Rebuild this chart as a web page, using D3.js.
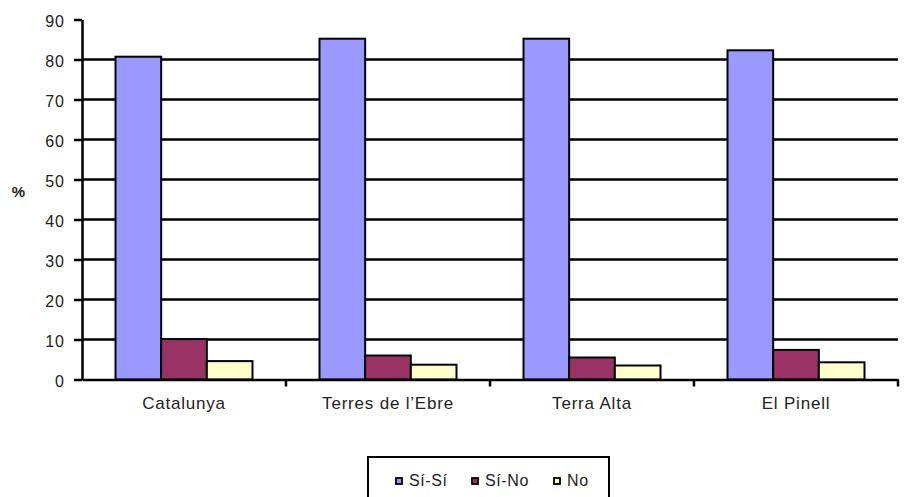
<!DOCTYPE html>
<html>
<head>
<meta charset="utf-8">
<script src="https://cdnjs.cloudflare.com/ajax/libs/d3/7.8.5/d3.min.js"></script>
<style>
  body { margin: 0; background: #fff; }
  svg { display: block; font-family: "Liberation Sans", Arial, sans-serif; }
</style>
</head>
<body>
<script>

// categories and series
var categories = ['Catalunya', 'Terres de l\u2019Ebre', 'Terra Alta', 'El Pinell'];
var seriesNames = ['S\u00ed-S\u00ed', 'S\u00ed-No', 'No'];
var siSi = [80.7, 85.2, 85.2, 82.3];
var siNo = [10.1, 6.0, 5.5, 7.4];
var no = [4.6, 3.7, 3.5, 4.3];
var yTicks = [0, 10, 20, 30, 40, 50, 60, 70, 80, 90];

var colors = ['#9999ff', '#993366', '#ffffcc'];

var width = 907, height = 497;
var plotLeft = 82, plotRight = 898, plotTop = 19.5, plotBottom = 379.5;

var svg = d3.select('body').append('svg')
  .attr('width', width)
  .attr('height', height);

var y = d3.scaleLinear().domain([0, 90]).range([plotBottom, plotTop]);

var x0 = d3.scaleBand().domain(categories).range([plotLeft, plotRight]).padding(0);
var x1 = d3.scaleBand().domain(seriesNames)
  .range([33.5, x0.bandwidth() - 33.5]).padding(0);

// gridlines (10..80)
svg.append('g')
  .selectAll('line')
  .data(yTicks.filter(function(d) { return d > 0 && d < 90; }))
  .enter().append('line')
  .attr('x1', plotLeft).attr('x2', plotRight)
  .attr('y1', function(d) { return y(d); })
  .attr('y2', function(d) { return y(d); })
  .attr('stroke', '#000')
  .attr('stroke-width', 2.5);

// bars
var rows = categories.map(function(c, i) {
  return { cat: c, values: [siSi[i], siNo[i], no[i]] };
});

var groups = svg.append('g').selectAll('g')
  .data(rows)
  .enter().append('g')
  .attr('transform', function(d) { return 'translate(' + x0(d.cat) + ',0)'; });

groups.selectAll('rect')
  .data(function(d) { return d.values.map(function(v, j) { return { s: seriesNames[j], v: v, j: j }; }); })
  .enter().append('rect')
  .attr('x', function(d) { return x1(d.s); })
  .attr('width', x1.bandwidth())
  .attr('y', function(d) { return y(d.v); })
  .attr('height', function(d) { return y(0) - y(d.v); })
  .attr('fill', function(d) { return colors[d.j]; })
  .attr('stroke', '#000')
  .attr('stroke-width', 2);

// y axis
var yAxis = svg.append('g')
  .attr('transform', 'translate(' + plotLeft + ',0)')
  .call(d3.axisLeft(y).tickValues(yTicks).tickSize(8).tickSizeOuter(0).tickPadding(9));
yAxis.select('.domain').attr('stroke', '#000').attr('stroke-width', 2.5);
yAxis.selectAll('.tick line').attr('stroke', '#000').attr('stroke-width', 2.5);
yAxis.selectAll('.tick text')
  .attr('font-size', 16)
  .attr('dy', '0.45em')
  .attr('fill', '#222')
  .style('letter-spacing', '1px')
  .style('font-family', '"Liberation Sans", Arial, sans-serif');

// x axis
var xAxis = svg.append('g')
  .attr('transform', 'translate(0,' + plotBottom + ')')
  .call(d3.axisBottom(x0).tickSize(0).tickSizeOuter(0).tickPadding(17.4));
xAxis.select('.domain').attr('stroke', '#000').attr('stroke-width', 2.5);
xAxis.selectAll('.tick text')
  .attr('font-size', 17)
  .attr('fill', '#222')
  .style('letter-spacing', '0.8px')
  .style('font-family', '"Liberation Sans", Arial, sans-serif');

// tick marks between categories
svg.append('g').selectAll('line')
  .data(categories.slice(1).map(function(c) { return x0(c); }).concat([plotRight]))
  .enter().append('line')
  .attr('x1', function(d) { return d; }).attr('x2', function(d) { return d; })
  .attr('y1', plotBottom).attr('y2', plotBottom + 7)
  .attr('stroke', '#000').attr('stroke-width', 2.5);

// y title
svg.append('text')
  .attr('x', 18.5).attr('y', 197)
  .attr('text-anchor', 'middle')
  .attr('font-size', 15)
  .attr('font-weight', 'bold')
  .attr('fill', '#222')
  .text('%');

// legend
var legend = svg.append('g');
legend.append('rect')
  .attr('x', 368).attr('y', 457)
  .attr('width', 241).attr('height', 60)
  .attr('fill', '#fff')
  .attr('stroke', '#000')
  .attr('stroke-width', 2);

var legendX = [396, 472, 554];
var items = legend.selectAll('g.item')
  .data(seriesNames)
  .enter().append('g')
  .attr('class', 'item')
  .attr('transform', function(d, i) { return 'translate(' + legendX[i] + ',478)'; });

items.append('rect')
  .attr('width', 6).attr('height', 6)
  .attr('fill', function(d, i) { return colors[i]; })
  .attr('stroke', '#000')
  .attr('stroke-width', 1.8);

items.append('text')
  .attr('x', 13).attr('y', 8)
  .attr('font-size', 16)
  .attr('fill', '#222')
  .style('letter-spacing', '0.6px')
  .text(function(d) { return d; });

</script>
</body>
</html>
